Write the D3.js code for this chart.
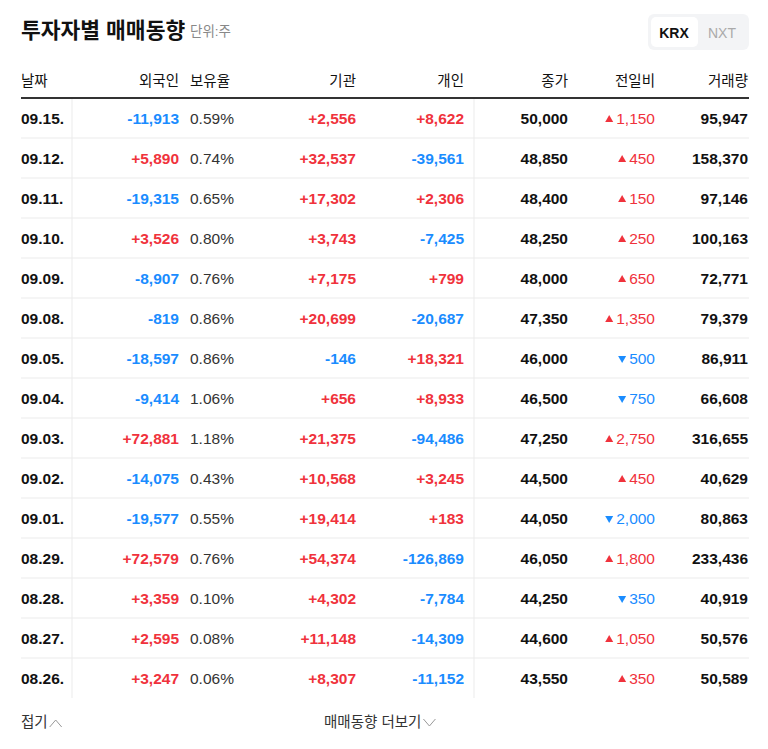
<!DOCTYPE html>
<html><head><meta charset="utf-8">
<script src="https://cdn.jsdelivr.net/npm/d3@7"></script>
<style>
body{margin:0;background:#fff;font-family:"Liberation Sans",Arial,"Noto Sans CJK KR",sans-serif;}
</style></head>
<body><svg id="chart" width="768" height="749"></svg>
<script>
// table data
var dates = ['09.15.','09.12.','09.11.','09.10.','09.09.','09.08.','09.05.','09.04.','09.03.','09.02.','09.01.','08.29.','08.28.','08.27.','08.26.'];
var foreign = [-11913,5890,-19315,3526,-8907,-819,-18597,-9414,72881,-14075,-19577,72579,3359,2595,3247];
var holding = [0.59,0.74,0.65,0.80,0.76,0.86,0.86,1.06,1.18,0.43,0.55,0.76,0.10,0.08,0.06];
var institution = [2556,32537,17302,3743,7175,20699,-146,656,21375,10568,19414,54374,4302,11148,8307];
var individual = [8622,-39561,2306,-7425,799,-20687,18321,8933,-94486,3245,183,-126869,-7784,-14309,-11152];
var closePrice = [50000,48850,48400,48250,48000,47350,46000,46500,47250,44500,44050,46050,44250,44600,43550];
var change = [1150,450,150,250,650,1350,-500,-750,2750,450,-2000,1800,-350,1050,350];
var volume = [95947,158370,97146,100163,72771,79379,86911,66608,316655,40629,80863,233436,40919,50576,50589];
var headers = ['날짜','외국인','보유율','기관','개인','종가','전일비','거래량'];

var RED = '#f0323c', BLUE = '#1a8cff', DARK = '#111';
var svg = d3.select('#chart');
var fmt = d3.formatLocale({decimal: '.', thousands: ',', grouping: [3], currency: ['', ''], minus: '-'}).format(',');
var signed = function(v){ return (v > 0 ? '+' : '') + fmt(v); };

var y = d3.scaleBand().domain(d3.range(dates.length)).range([98, 698]);

// title
svg.append('text').attr('x', 21).attr('y', 38).attr('font-size', 21.5).attr('font-weight', 'bold')
	.attr('fill', DARK).text('투자자별 매매동향');
svg.append('text').attr('x', 190).attr('y', 36).attr('font-size', 13.5).attr('fill', '#888').text('단위:주');

// KRX / NXT toggle
svg.append('rect').attr('x', 648).attr('y', 14).attr('width', 101).attr('height', 36).attr('rx', 6).attr('fill', '#f3f4f6');
svg.append('rect').attr('x', 651).attr('y', 17).attr('width', 47).attr('height', 30).attr('rx', 5).attr('fill', '#fff');
svg.append('text').attr('x', 674).attr('y', 38).attr('text-anchor', 'middle').attr('font-size', 14).attr('font-weight', 'bold').attr('fill', DARK).text('KRX');
svg.append('text').attr('x', 722).attr('y', 38).attr('text-anchor', 'middle').attr('font-size', 14).attr('fill', '#aaa').text('NXT');

// column layout: x, anchor
var cols = [[21,'start'],[179,'end'],[190,'start'],[356,'end'],[464,'end'],[568,'end'],[655,'end'],[748,'end']];
svg.selectAll('.hd').data(headers).enter().append('text')
	.attr('x', function(d,i){ return cols[i][0]; }).attr('y', 86)
	.attr('text-anchor', function(d,i){ return cols[i][1]; })
	.attr('font-size', 14.5).attr('fill', DARK).text(function(d){ return d; });

// row separators and verticals
svg.selectAll('.sep').data(d3.range(1, dates.length)).enter().append('line')
	.attr('x1', 21).attr('x2', 749).attr('y1', function(i){ return y(i); }).attr('y2', function(i){ return y(i); })
	.attr('stroke', '#ebebeb');
[72, 474].forEach(function(x){
	svg.append('line').attr('x1', x).attr('x2', x).attr('y1', 98).attr('y2', 698).attr('stroke', '#ebebeb');
});
svg.append('line').attr('x1', 21).attr('x2', 749).attr('y1', 98).attr('y2', 98).attr('stroke', '#333').attr('stroke-width', 2);

var rows = svg.selectAll('.row').data(d3.range(dates.length)).enter().append('g')
	.attr('transform', function(i){ return 'translate(0,' + (y(i) + y.bandwidth()/2 + 6) + ')'; });

function cell(ci, text, color, bold, cls){
	return rows.append('text').attr('class', cls || null).attr('x', cols[ci][0]).attr('text-anchor', cols[ci][1])
		.attr('font-size', 15.5).attr('font-weight', bold ? 'bold' : 'normal')
		.attr('fill', color).text(text);
}
var pn = function(arr){ return function(i){ return arr[i] > 0 ? RED : BLUE; }; };
cell(0, function(i){ return dates[i]; }, DARK, true);
cell(1, function(i){ return signed(foreign[i]); }, pn(foreign), true);
cell(2, function(i){ return holding[i].toFixed(2) + '%'; }, '#333', false);
cell(3, function(i){ return signed(institution[i]); }, pn(institution), true);
cell(4, function(i){ return signed(individual[i]); }, pn(individual), true);
cell(5, function(i){ return fmt(closePrice[i]); }, DARK, true);
var chg = cell(6, function(i){ return fmt(Math.abs(change[i])); }, pn(change), false, 'chg');
cell(7, function(i){ return fmt(volume[i]); }, DARK, true);

// change arrows, placed just left of the measured number
chg.each(function(i){
	var w = this.getComputedTextLength();
	d3.select(this.parentNode).append('path')
		.attr('transform', 'translate(' + (655 - w - 7) + ',-5)')
		.attr('d', change[i] > 0 ? 'M-4,3L4,3L0,-4Z' : 'M-4,-3L4,-3L0,4Z')
		.attr('fill', change[i] > 0 ? RED : BLUE);
});

// footer
var f1 = svg.append('text').attr('x', 21).attr('y', 727).attr('font-size', 14.5).attr('fill', '#333').text('접기');
var x1 = 21 + f1.node().getComputedTextLength() + 2;
svg.append('path').attr('d', 'M' + x1 + ',727L' + (x1 + 6) + ',720L' + (x1 + 12) + ',727').attr('fill', 'none').attr('stroke', '#999');
var f2 = svg.append('text').attr('x', 324).attr('y', 727).attr('font-size', 14.5).attr('fill', '#333').text('매매동향 더보기');
var x2 = 324 + f2.node().getComputedTextLength() + 2;
svg.append('path').attr('d', 'M' + x2 + ',719L' + (x2 + 6) + ',726L' + (x2 + 12) + ',719').attr('fill', 'none').attr('stroke', '#999');
</script></body></html>
